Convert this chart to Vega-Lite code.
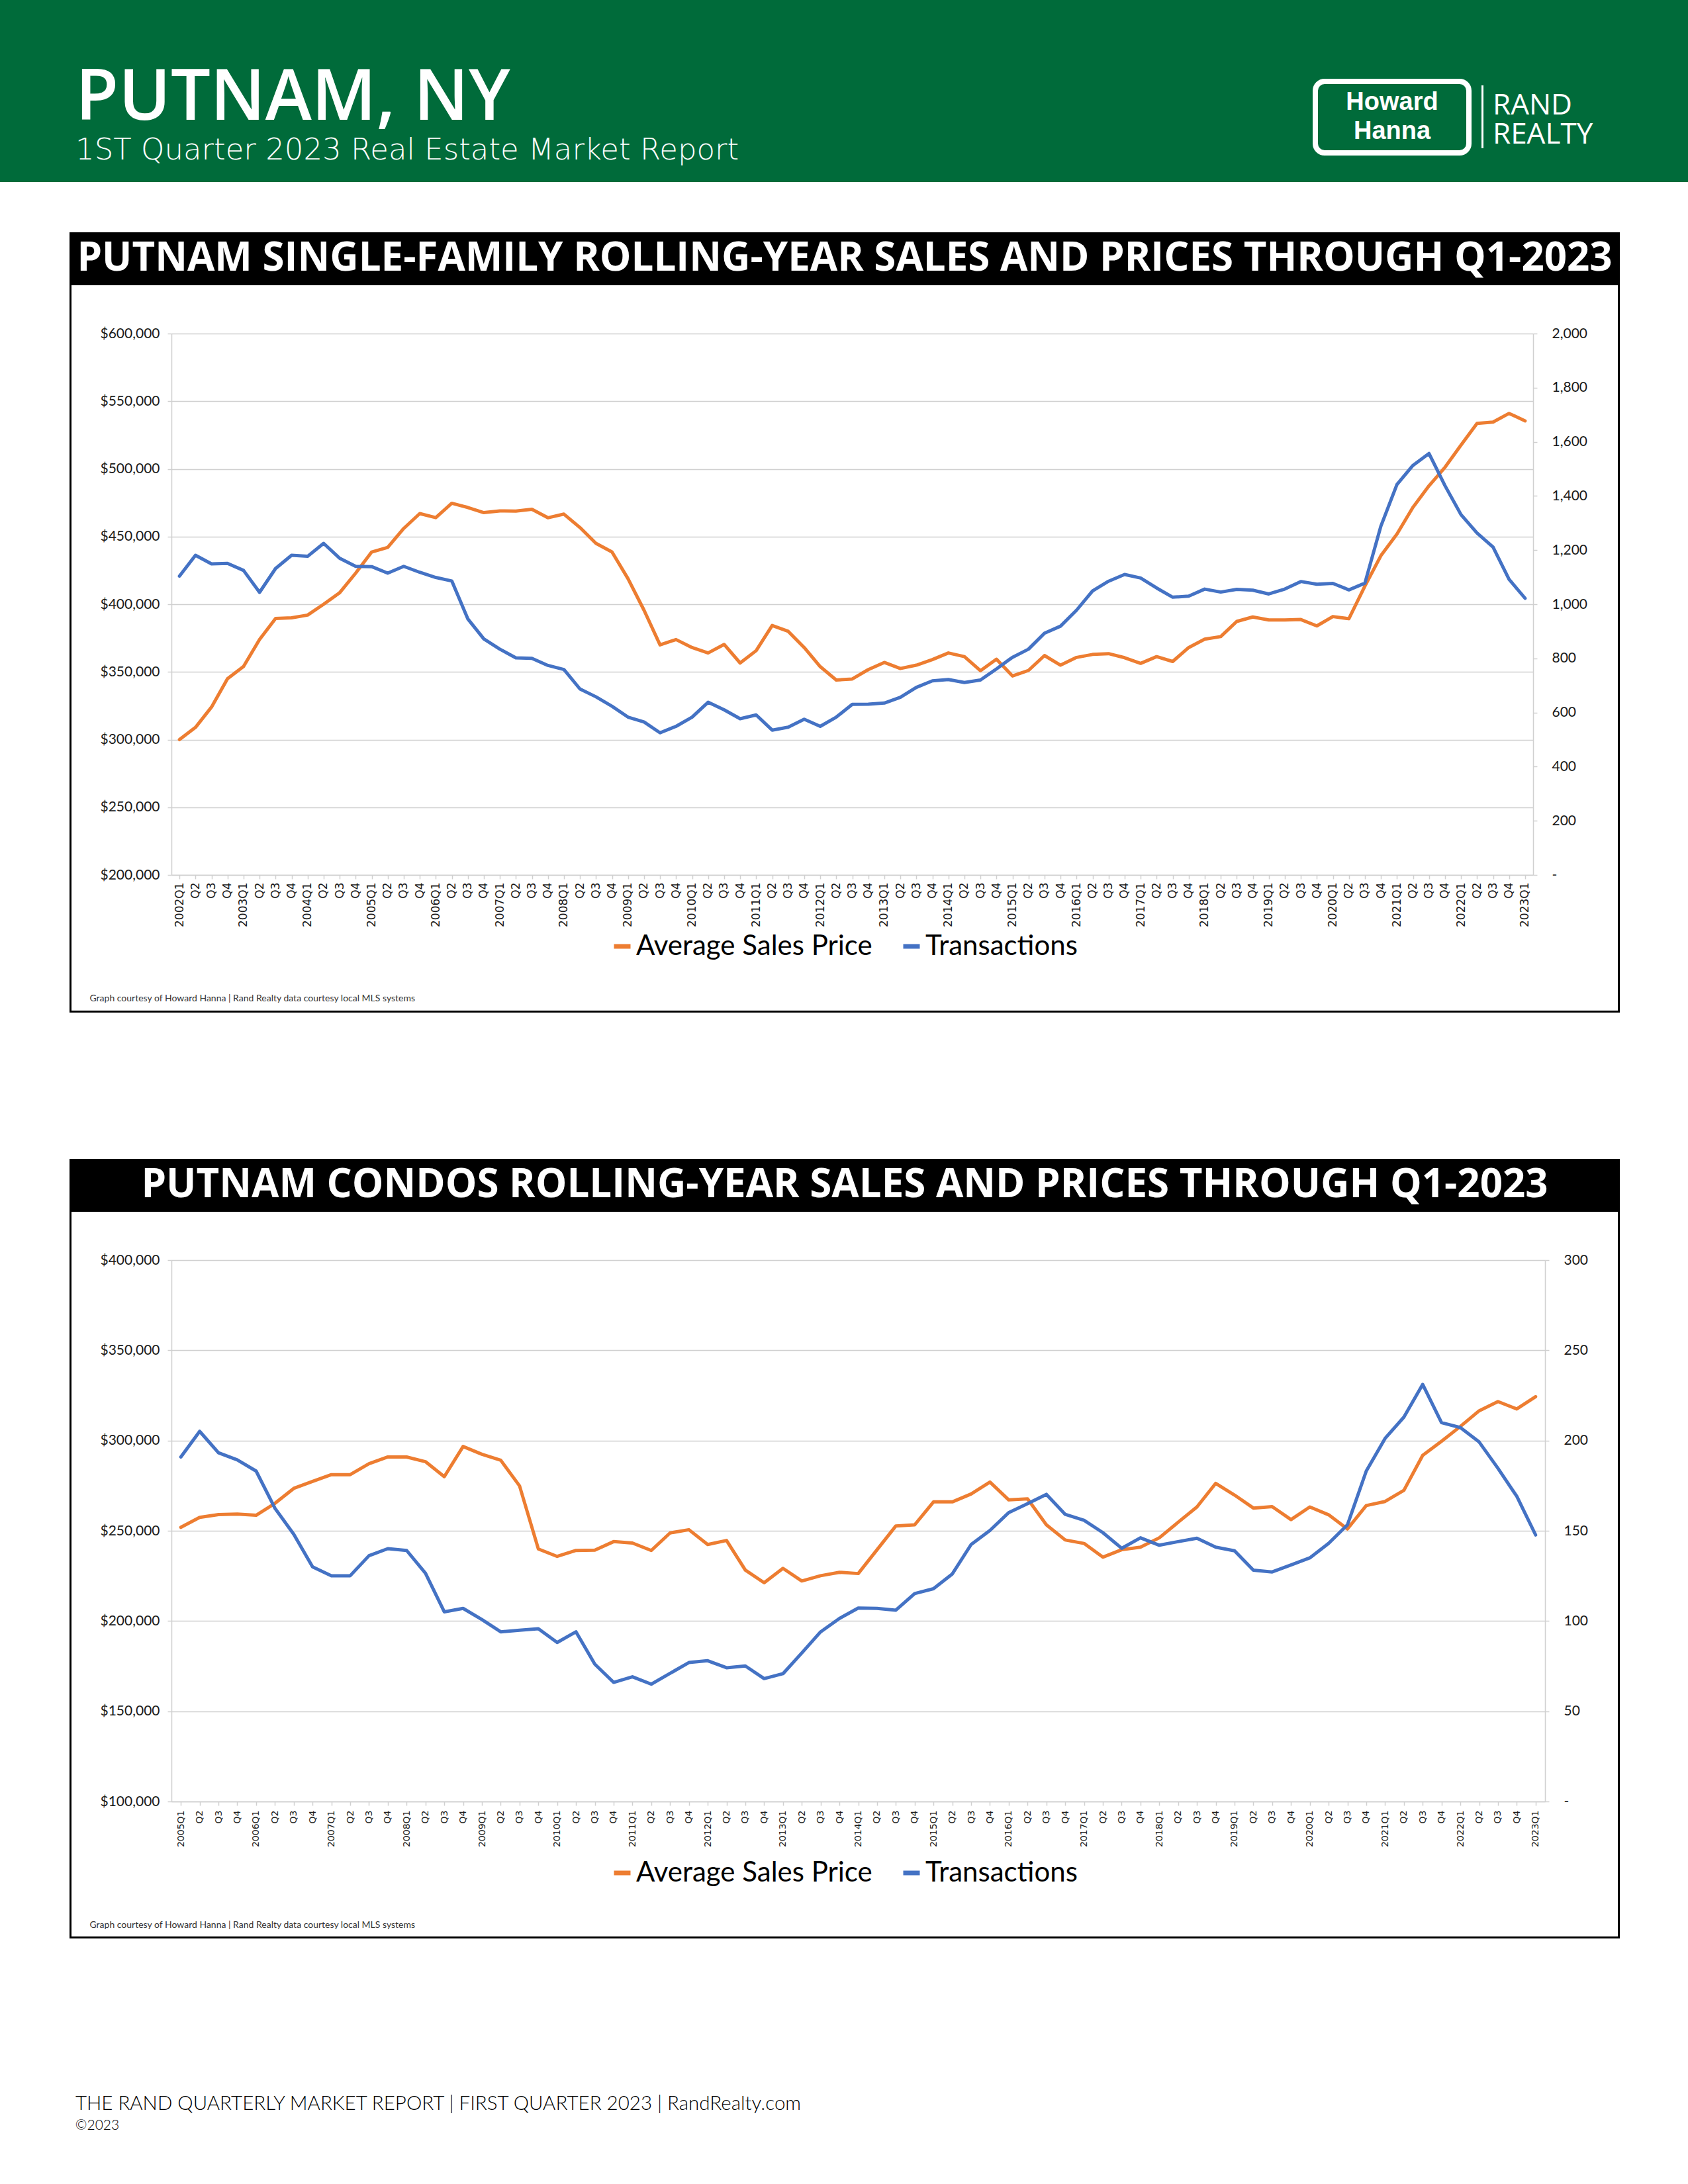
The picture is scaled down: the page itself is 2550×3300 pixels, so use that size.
{
"$schema": "https://vega.github.io/schema/vega-lite/v6.json",
"background": "#006b3a",
"padding": 0,
"spacing": 0,
"config": {"view": {"stroke": null}, "concat": {"spacing": 0}},
"resolve": {"scale": {"color": "independent"}, "legend": {"color": "independent"}},
"datasets": {
"sf": [
{"q":"2002Q1","p":300000,"t":1104},{"q":"2002Q2","p":309000,"t":1181},{"q":"2002Q3","p":324000,"t":1149},{"q":"2002Q4","p":345000,"t":1151},
{"q":"2003Q1","p":354000,"t":1125},{"q":"2003Q2","p":374000,"t":1044},{"q":"2003Q3","p":389500,"t":1132},{"q":"2003Q4","p":390000,"t":1181},
{"q":"2004Q1","p":392000,"t":1177},{"q":"2004Q2","p":400000,"t":1225},{"q":"2004Q3","p":408500,"t":1170},{"q":"2004Q4","p":423000,"t":1140},
{"q":"2005Q1","p":438600,"t":1139},{"q":"2005Q2","p":442000,"t":1115},{"q":"2005Q3","p":456000,"t":1140},{"q":"2005Q4","p":467000,"t":1118},
{"q":"2006Q1","p":464000,"t":1099},{"q":"2006Q2","p":474600,"t":1086},{"q":"2006Q3","p":471500,"t":946},{"q":"2006Q4","p":467700,"t":872},
{"q":"2007Q1","p":469000,"t":834},{"q":"2007Q2","p":468800,"t":802},{"q":"2007Q3","p":470200,"t":800},{"q":"2007Q4","p":463900,"t":774},
{"q":"2008Q1","p":466600,"t":759},{"q":"2008Q2","p":456700,"t":687},{"q":"2008Q3","p":445000,"t":658},{"q":"2008Q4","p":438600,"t":623},
{"q":"2009Q1","p":418900,"t":583},{"q":"2009Q2","p":395600,"t":565},{"q":"2009Q3","p":370000,"t":525},{"q":"2009Q4","p":373900,"t":549},
{"q":"2010Q1","p":368000,"t":583},{"q":"2010Q2","p":364000,"t":638},{"q":"2010Q3","p":370300,"t":610},{"q":"2010Q4","p":356600,"t":577},
{"q":"2011Q1","p":365700,"t":591},{"q":"2011Q2","p":384300,"t":535},{"q":"2011Q3","p":380000,"t":546},{"q":"2011Q4","p":368000,"t":575},
{"q":"2012Q1","p":353900,"t":549},{"q":"2012Q2","p":344000,"t":583},{"q":"2012Q3","p":344800,"t":630},{"q":"2012Q4","p":351700,"t":631},
{"q":"2013Q1","p":357000,"t":635},{"q":"2013Q2","p":352500,"t":656},{"q":"2013Q3","p":355000,"t":693},{"q":"2013Q4","p":359100,"t":717},
{"q":"2014Q1","p":364000,"t":722},{"q":"2014Q2","p":361300,"t":711},{"q":"2014Q3","p":350900,"t":720},{"q":"2014Q4","p":359400,"t":761},
{"q":"2015Q1","p":347000,"t":804},{"q":"2015Q2","p":351100,"t":834},{"q":"2015Q3","p":362100,"t":893},{"q":"2015Q4","p":355000,"t":919},
{"q":"2016Q1","p":360700,"t":978},{"q":"2016Q2","p":362900,"t":1049},{"q":"2016Q3","p":363500,"t":1085},{"q":"2016Q4","p":360500,"t":1110},
{"q":"2017Q1","p":356300,"t":1097},{"q":"2017Q2","p":361300,"t":1060},{"q":"2017Q3","p":357700,"t":1026},{"q":"2017Q4","p":368000,"t":1030},
{"q":"2018Q1","p":374200,"t":1056},{"q":"2018Q2","p":376100,"t":1045},{"q":"2018Q3","p":387300,"t":1055},{"q":"2018Q4","p":390600,"t":1052},
{"q":"2019Q1","p":388400,"t":1038},{"q":"2019Q2","p":388400,"t":1056},{"q":"2019Q3","p":388700,"t":1084},{"q":"2019Q4","p":384000,"t":1074},
{"q":"2020Q1","p":390900,"t":1077},{"q":"2020Q2","p":389300,"t":1053},{"q":"2020Q3","p":413400,"t":1078},{"q":"2020Q4","p":435900,"t":1289},
{"q":"2021Q1","p":451800,"t":1442},{"q":"2021Q2","p":471600,"t":1513},{"q":"2021Q3","p":487500,"t":1557},{"q":"2021Q4","p":501200,"t":1438},
{"q":"2022Q1","p":517600,"t":1331},{"q":"2022Q2","p":533600,"t":1263},{"q":"2022Q3","p":534600,"t":1211},{"q":"2022Q4","p":541000,"t":1092},
{"q":"2023Q1","p":535500,"t":1022}
],
"condo": [
{"q":"2005Q1","p":251900,"t":190.9},{"q":"2005Q2","p":257400,"t":205.1},{"q":"2005Q3","p":259000,"t":193.2},{"q":"2005Q4","p":259300,"t":189.3},
{"q":"2006Q1","p":258600,"t":183.1},{"q":"2006Q2","p":265200,"t":162.5},{"q":"2006Q3","p":273500,"t":148.1},{"q":"2006Q4","p":277400,"t":130.0},
{"q":"2007Q1","p":281100,"t":125.1},{"q":"2007Q2","p":281100,"t":125.1},{"q":"2007Q3","p":287200,"t":136.2},{"q":"2007Q4","p":290900,"t":140.1},
{"q":"2008Q1","p":290900,"t":139.1},{"q":"2008Q2","p":288300,"t":126.5},{"q":"2008Q3","p":280000,"t":105.1},{"q":"2008Q4","p":296700,"t":107.0},
{"q":"2009Q1","p":292400,"t":100.8},{"q":"2009Q2","p":289100,"t":94.0},{"q":"2009Q3","p":274900,"t":94.9},{"q":"2009Q4","p":239900,"t":95.7},
{"q":"2010Q1","p":235800,"t":88.1},{"q":"2010Q2","p":239100,"t":94.0},{"q":"2010Q3","p":239300,"t":76.1},{"q":"2010Q4","p":244000,"t":66.0},
{"q":"2011Q1","p":243200,"t":69.1},{"q":"2011Q2","p":239100,"t":65.0},{"q":"2011Q3","p":248800,"t":71.0},{"q":"2011Q4","p":250600,"t":77.0},
{"q":"2012Q1","p":242400,"t":78.0},{"q":"2012Q2","p":244650,"t":74.1},{"q":"2012Q3","p":228200,"t":75.1},{"q":"2012Q4","p":221200,"t":68.1},
{"q":"2013Q1","p":229200,"t":70.8},{"q":"2013Q2","p":222200,"t":82.3},{"q":"2013Q3","p":225100,"t":94.0},{"q":"2013Q4","p":227000,"t":101.4},
{"q":"2014Q1","p":226300,"t":107.2},{"q":"2014Q2","p":239500,"t":107.0},{"q":"2014Q3","p":252700,"t":106.0},{"q":"2014Q4","p":253300,"t":115.2},
{"q":"2015Q1","p":266000,"t":117.9},{"q":"2015Q2","p":266000,"t":126.1},{"q":"2015Q3","p":270400,"t":142.4},{"q":"2015Q4","p":277000,"t":150.2},
{"q":"2016Q1","p":267100,"t":160.1},{"q":"2016Q2","p":267700,"t":165.0},{"q":"2016Q3","p":253300,"t":170.2},{"q":"2016Q4","p":244900,"t":159.1},
{"q":"2017Q1","p":243000,"t":155.8},{"q":"2017Q2","p":235400,"t":149.0},{"q":"2017Q3","p":239500,"t":140.3},{"q":"2017Q4","p":240900,"t":146.1},
{"q":"2018Q1","p":246100,"t":142.0},{"q":"2018Q2","p":254700,"t":144.0},{"q":"2018Q3","p":263200,"t":145.9},{"q":"2018Q4","p":276300,"t":140.9},
{"q":"2019Q1","p":269800,"t":138.9},{"q":"2019Q2","p":262600,"t":128.2},{"q":"2019Q3","p":263400,"t":127.2},{"q":"2019Q4","p":256200,"t":131.1},
{"q":"2020Q1","p":263200,"t":135.0},{"q":"2020Q2","p":258850,"t":143.0},{"q":"2020Q3","p":251000,"t":153.3},{"q":"2020Q4","p":264000,"t":183.1},
{"q":"2021Q1","p":266250,"t":201.2},{"q":"2021Q2","p":272400,"t":213.0},{"q":"2021Q3","p":291800,"t":231.1},{"q":"2021Q4","p":299600,"t":209.9},
{"q":"2022Q1","p":307800,"t":207.2},{"q":"2022Q2","p":316500,"t":199.2},{"q":"2022Q3","p":321600,"t":184.6},{"q":"2022Q4","p":317500,"t":169.1},
{"q":"2023Q1","p":324300,"t":147.7}
]
},
"vconcat": [
{"hconcat": [
  {"vconcat": [
    {"width": 1983, "height": 95, "data": {"values": [{}]}, "mark": {"type": "rect", "opacity": 0}},
    {"width": 228, "height": 108, "data": {"values": [{"t": "PUTNAM, NY"}]}, "mark": {"type": "text", "align": "left", "baseline": "middle", "font": "Open Sans", "fontSize": 106, "fontWeight": 600, "color": "white"}, "encoding": {"text": {"field": "t"}}},
    {"width": 228, "height": 47, "data": {"values": [{"t": "1ST Quarter 2023 Real Estate Market Report"}]}, "mark": {"type": "text", "align": "left", "baseline": "middle", "font": "DejaVu Sans", "fontSize": 45, "fontWeight": 200, "color": "white"}, "encoding": {"text": {"field": "t"}}},
    {"width": 1983, "height": 25, "data": {"values": [{}]}, "mark": {"type": "rect", "opacity": 0}}
  ], "spacing": 0},
  {"vconcat": [
    {"width": 232, "height": 119, "data": {"values": [{}]}, "mark": {"type": "rect", "opacity": 0}},
    {"width": 232, "height": 108, "view": {"stroke": "white", "strokeWidth": 8, "cornerRadius": 14}, "data": {"values": [{"t": "Howard\nHanna"}]}, "mark": {"type": "text", "lineBreak": "\n", "align": "center", "baseline": "middle", "dy": -22, "font": "Liberation Sans", "fontSize": 38, "lineHeight": 44, "fontWeight": "bold", "color": "white"}, "encoding": {"text": {"field": "t"}}},
    {"width": 232, "height": 40, "data": {"values": [{}]}, "mark": {"type": "rect", "opacity": 0}}
  ], "spacing": 0},
  {"hconcat": [
    {"width": 15, "height": 275, "data": {"values": [{}]}, "mark": {"type": "rect", "opacity": 0}},
    {"vconcat": [
      {"width": 3, "height": 129, "data": {"values": [{}]}, "mark": {"type": "rect", "opacity": 0}},
      {"width": 3, "height": 95, "data": {"values": [{}]}, "mark": {"type": "rect", "color": "white"}},
      {"width": 3, "height": 51, "data": {"values": [{}]}, "mark": {"type": "rect", "opacity": 0}}
    ], "spacing": 0},
    {"vconcat": [
      {"width": 309, "height": 94, "data": {"values": [{}]}, "mark": {"type": "rect", "opacity": 0}},
      {"width": 28, "height": 132, "data": {"values": [{"t": "RAND\nREALTY"}]}, "mark": {"type": "text", "lineBreak": "\n", "align": "left", "baseline": "middle", "font": "Open Sans", "fontSize": 44, "lineHeight": 44, "fontWeight": 500, "color": "white"}, "encoding": {"text": {"field": "t"}}},
      {"width": 309, "height": 49, "data": {"values": [{}]}, "mark": {"type": "rect", "opacity": 0}}
    ], "spacing": 0}
  ], "spacing": 0}
], "spacing": 0},
{"width": 2550, "height": 76, "data": {"values": [{}]}, "mark": {"type": "rect", "color": "white"}},
{"hconcat": [
  {"width": 105, "height": 80, "data": {"values": [{}]}, "mark": {"type": "rect", "color": "white"}},
  {"width": 2342, "height": 80, "view": {"fill": "black"}, "data": {"values": [{"t": "PUTNAM SINGLE-FAMILY ROLLING-YEAR SALES AND PRICES THROUGH Q1-2023"}]}, "mark": {"type": "text", "align": "center", "baseline": "middle", "font": "Open Sans", "fontSize": 60, "fontWeight": "bold", "color": "white"}, "encoding": {"text": {"field": "t"}}},
  {"width": 103, "height": 80, "data": {"values": [{}]}, "mark": {"type": "rect", "color": "white"}}
], "spacing": 0},
{"hconcat": [
  {"width": 105, "height": 1096, "data": {"values": [{}]}, "mark": {"type": "rect", "color": "white"}},
  {"width": 3, "height": 1096, "data": {"values": [{}]}, "mark": {"type": "rect", "color": "black"}},
  {"width": 2336, "height": 1096,
   "view": {"fill": "white"},
   "data": {"name": "sf"},
   "encoding": {"x": {"field": "q", "type": "ordinal", "sort": null,
      "scale": {"type": "point", "range": [151, 2208], "padding": 0.5},
      "axis": {"orient": "bottom", "offset": -205, "labelAngle": -90, "labelFont": "DejaVu Sans", "labelFontSize": 17, "labelColor": "#1a1a1a", "labelOverlap": false, "labelPadding": 5,
        "labelExpr": "substring(datum.value, 4, 6) == 'Q1' ? datum.value : substring(datum.value, 4, 6)",
        "tickSize": 6, "tickColor": "#d0d0d0", "tickWidth": 1.5, "domainColor": "#d0d0d0", "domainWidth": 1.5, "grid": false,
        "title": "Graph courtesy of Howard Hanna | Rand Realty data courtesy local MLS systems", "titleFont": "Lato", "titleFontSize": 14, "titleFontWeight": "normal", "titleColor": "#333333",
        "titleAnchor": "start", "titleAlign": "left", "titleBaseline": "middle", "titleX": 27, "titleY": 186}}},
   "layer": [
     {"mark": {"type": "line", "strokeWidth": 5, "strokeJoin": "round", "strokeCap": "round"},
      "encoding": {
        "y": {"field": "p", "type": "quantitative", "scale": {"domain": [200000, 600000], "range": [891, 73], "nice": false, "zero": false},
          "axis": {"orient": "left", "offset": -151, "values": [200000, 250000, 300000, 350000, 400000, 450000, 500000, 550000, 600000], "format": "$,.0f",
            "labelFont": "Lato", "labelFontSize": 21, "labelColor": "#1a1a1a", "labelPadding": 12, "tickSize": 6, "tickColor": "#d0d0d0", "tickWidth": 1.5,
            "domainColor": "#d0d0d0", "domainWidth": 1.5, "grid": true, "gridColor": "#d0d0d0", "gridWidth": 1.5, "title": null}},
        "color": {"datum": "Average Sales Price", "type": "nominal",
          "scale": {"domain": ["Average Sales Price", "Transactions"], "range": ["#ed7d31", "#4472c4"]},
          "legend": {"orient": "none", "legendX": 811, "legendY": 978, "direction": "horizontal", "title": null, "symbolType": "stroke", "symbolSize": 625, "symbolStrokeWidth": 7,
            "labelFont": "Lato", "labelFontSize": 42, "labelColor": "black", "labelOffset": 0, "labelLimit": 1000, "columnPadding": 32, "padding": 0}}}},
     {"mark": {"type": "line", "strokeWidth": 5, "strokeJoin": "round", "strokeCap": "round"},
      "encoding": {
        "y": {"field": "t", "type": "quantitative", "scale": {"domain": [0, 2000], "range": [891, 73], "nice": false},
          "axis": {"orient": "right", "offset": -128, "values": [0, 200, 400, 600, 800, 1000, 1200, 1400, 1600, 1800, 2000], "format": ",d",
            "labelExpr": "datum.value == 0 ? '-' : datum.label",
            "labelFont": "Lato", "labelFontSize": 21, "labelColor": "#1a1a1a", "labelPadding": 22, "tickSize": 6, "tickColor": "#d0d0d0", "tickWidth": 1.5,
            "domainColor": "#d0d0d0", "domainWidth": 1.5, "grid": false, "title": null}},
        "color": {"datum": "Transactions", "type": "nominal"}}}
   ],
   "resolve": {"scale": {"y": "independent"}, "axis": {"y": "independent"}}
  },
  {"width": 3, "height": 1096, "data": {"values": [{}]}, "mark": {"type": "rect", "color": "black"}},
  {"width": 103, "height": 1096, "data": {"values": [{}]}, "mark": {"type": "rect", "color": "white"}}
], "spacing": 0, "resolve": {"scale": {"color": "independent"}, "legend": {"color": "independent"}}},
{"hconcat": [
  {"width": 105, "height": 3, "data": {"values": [{}]}, "mark": {"type": "rect", "color": "white"}},
  {"width": 2342, "height": 3, "data": {"values": [{}]}, "mark": {"type": "rect", "color": "black"}},
  {"width": 103, "height": 3, "data": {"values": [{}]}, "mark": {"type": "rect", "color": "white"}}
], "spacing": 0},
{"width": 2550, "height": 221, "data": {"values": [{}]}, "mark": {"type": "rect", "color": "white"}},
{"hconcat": [
  {"width": 105, "height": 80, "data": {"values": [{}]}, "mark": {"type": "rect", "color": "white"}},
  {"width": 2342, "height": 80, "view": {"fill": "black"}, "data": {"values": [{"t": "PUTNAM CONDOS ROLLING-YEAR SALES AND PRICES THROUGH Q1-2023"}]}, "mark": {"type": "text", "align": "center", "baseline": "middle", "font": "Open Sans", "fontSize": 60, "fontWeight": "bold", "color": "white"}, "encoding": {"text": {"field": "t"}}},
  {"width": 103, "height": 80, "data": {"values": [{}]}, "mark": {"type": "rect", "color": "white"}}
], "spacing": 0},
{"hconcat": [
  {"width": 105, "height": 1095, "data": {"values": [{}]}, "mark": {"type": "rect", "color": "white"}},
  {"width": 3, "height": 1095, "data": {"values": [{}]}, "mark": {"type": "rect", "color": "black"}},
  {"width": 2336, "height": 1095,
   "view": {"fill": "white"},
   "data": {"name": "condo"},
   "encoding": {"x": {"field": "q", "type": "ordinal", "sort": null,
      "scale": {"type": "point", "range": [151, 2226], "padding": 0.5},
      "axis": {"orient": "bottom", "offset": -204, "labelAngle": -90, "labelFont": "DejaVu Sans", "labelFontSize": 14, "labelColor": "#1a1a1a", "labelOverlap": false, "labelPadding": 7,
        "labelExpr": "substring(datum.value, 4, 6) == 'Q1' ? datum.value : substring(datum.value, 4, 6)",
        "tickSize": 6, "tickColor": "#d0d0d0", "tickWidth": 1.5, "domainColor": "#d0d0d0", "domainWidth": 1.5, "grid": false,
        "title": "Graph courtesy of Howard Hanna | Rand Realty data courtesy local MLS systems", "titleFont": "Lato", "titleFontSize": 14, "titleFontWeight": "normal", "titleColor": "#333333",
        "titleAnchor": "start", "titleAlign": "left", "titleBaseline": "middle", "titleX": 27, "titleY": 186}}},
   "layer": [
     {"mark": {"type": "line", "strokeWidth": 5, "strokeJoin": "round", "strokeCap": "round"},
      "encoding": {
        "y": {"field": "p", "type": "quantitative", "scale": {"domain": [100000, 400000], "range": [891, 73], "nice": false, "zero": false},
          "axis": {"orient": "left", "offset": -151, "values": [100000, 150000, 200000, 250000, 300000, 350000, 400000], "format": "$,.0f",
            "labelFont": "Lato", "labelFontSize": 21, "labelColor": "#1a1a1a", "labelPadding": 12, "tickSize": 6, "tickColor": "#d0d0d0", "tickWidth": 1.5,
            "domainColor": "#d0d0d0", "domainWidth": 1.5, "grid": true, "gridColor": "#d0d0d0", "gridWidth": 1.5, "title": null}},
        "color": {"datum": "Average Sales Price", "type": "nominal",
          "scale": {"domain": ["Average Sales Price", "Transactions"], "range": ["#ed7d31", "#4472c4"]},
          "legend": {"orient": "none", "legendX": 811, "legendY": 978, "direction": "horizontal", "title": null, "symbolType": "stroke", "symbolSize": 625, "symbolStrokeWidth": 7,
            "labelFont": "Lato", "labelFontSize": 42, "labelColor": "black", "labelOffset": 0, "labelLimit": 1000, "columnPadding": 32, "padding": 0}}}},
     {"mark": {"type": "line", "strokeWidth": 5, "strokeJoin": "round", "strokeCap": "round"},
      "encoding": {
        "y": {"field": "t", "type": "quantitative", "scale": {"domain": [0, 300], "range": [891, 73], "nice": false},
          "axis": {"orient": "right", "offset": -110, "values": [0, 50, 100, 150, 200, 250, 300], "format": ",d",
            "labelExpr": "datum.value == 0 ? '-' : datum.label",
            "labelFont": "Lato", "labelFontSize": 21, "labelColor": "#1a1a1a", "labelPadding": 22, "tickSize": 6, "tickColor": "#d0d0d0", "tickWidth": 1.5,
            "domainColor": "#d0d0d0", "domainWidth": 1.5, "grid": false, "title": null}},
        "color": {"datum": "Transactions", "type": "nominal"}}}
   ],
   "resolve": {"scale": {"y": "independent"}, "axis": {"y": "independent"}}
  },
  {"width": 3, "height": 1095, "data": {"values": [{}]}, "mark": {"type": "rect", "color": "black"}},
  {"width": 103, "height": 1095, "data": {"values": [{}]}, "mark": {"type": "rect", "color": "white"}}
], "spacing": 0, "resolve": {"scale": {"color": "independent"}, "legend": {"color": "independent"}}},
{"hconcat": [
  {"width": 105, "height": 3, "data": {"values": [{}]}, "mark": {"type": "rect", "color": "white"}},
  {"width": 2342, "height": 3, "data": {"values": [{}]}, "mark": {"type": "rect", "color": "black"}},
  {"width": 103, "height": 3, "data": {"values": [{}]}, "mark": {"type": "rect", "color": "white"}}
], "spacing": 0},
{"vconcat": [
  {"width": 2550, "height": 228, "data": {"values": [{}]}, "mark": {"type": "rect", "color": "white"}},
  {"hconcat": [
    {"width": 1324, "height": 44, "view": {"fill": "white"}, "data": {"values": [{"t": "THE RAND QUARTERLY MARKET REPORT | FIRST QUARTER 2023 | RandRealty.com"}]}, "mark": {"type": "text", "align": "center", "baseline": "middle", "font": "Lato", "fontSize": 29.5, "fontWeight": 300, "color": "black"}, "encoding": {"text": {"field": "t"}}},
    {"width": 1226, "height": 44, "data": {"values": [{}]}, "mark": {"type": "rect", "color": "white"}}
  ], "spacing": 0},
  {"hconcat": [
    {"width": 294, "height": 22, "view": {"fill": "white"}, "data": {"values": [{"t": "©2023"}]}, "mark": {"type": "text", "align": "center", "baseline": "middle", "font": "Lato", "fontSize": 21, "fontWeight": 300, "color": "black"}, "encoding": {"text": {"field": "t"}}},
    {"width": 2256, "height": 22, "data": {"values": [{}]}, "mark": {"type": "rect", "color": "white"}}
  ], "spacing": 0},
  {"width": 2550, "height": 77, "data": {"values": [{}]}, "mark": {"type": "rect", "color": "white"}}
], "spacing": 0}
]
}
